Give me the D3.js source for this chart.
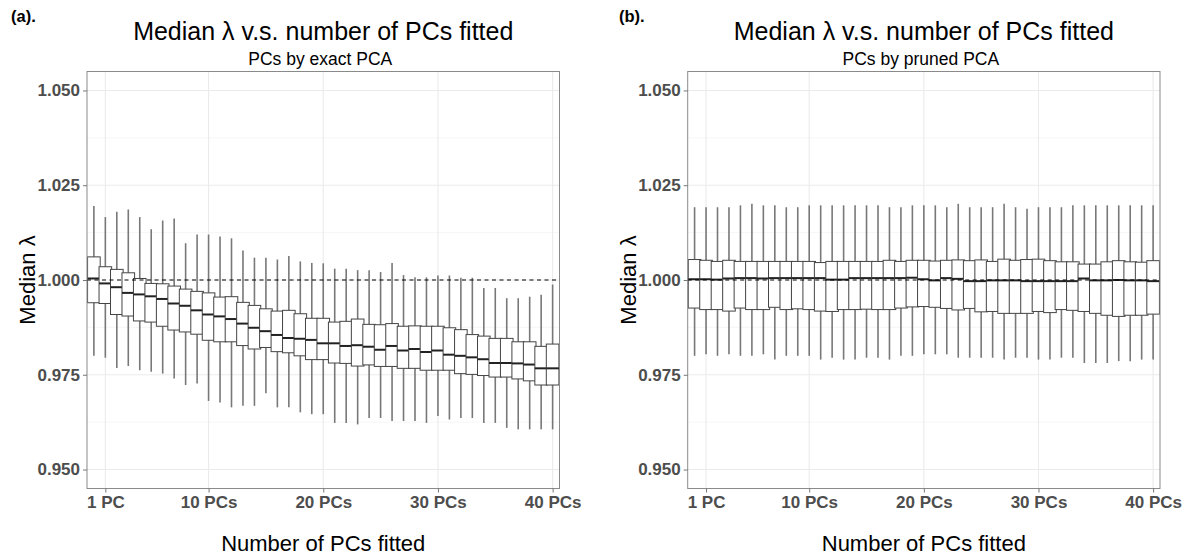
<!DOCTYPE html>
<html><head><meta charset="utf-8">
<script src="https://cdn.jsdelivr.net/npm/d3@7"></script>
<style>
body{margin:0;background:#fff;}
text{font-family:"Liberation Sans",Arial,Helvetica,sans-serif;}
</style></head>
<body><svg id="chart" width="1192" height="559"></svg>
<script>
// number of PCs fitted (levels of the x factor)
const pcLevels = [0,1,2,3,4,5,6,7,8,9,10,11,12,13,14,15,16,17,18,19,20,21,22,23,24,25,26,27,28,29,30,31,32,33,34,35,36,37,38,39,40];
const xTickValues = [1,10,20,30,40];
const xTickLabels = ["1 PC","10 PCs","20 PCs","30 PCs","40 PCs"];
const yTickValues = [0.950,0.975,1.000,1.025,1.050];
const yMinorValues = [0.9625,0.9875,1.0125,1.0375];

// (a) PCs by exact PCA
const exactUpper = [1.0195,1.0166,1.0180,1.0186,1.0166,1.0134,1.0157,1.0162,1.0097,1.0120,1.0120,1.0115,1.0110,1.0078,1.0059,1.0059,1.0054,1.0063,1.0049,1.0045,1.0044,1.0030,1.0030,1.0026,1.0026,1.0021,1.0045,1.0013,1.0007,1.0007,1.0012,1.0012,1.0006,1.0006,0.9979,0.9979,0.9952,0.9952,0.9956,0.9961,0.9988];
const exactQ3 = [1.0061,1.0035,1.0028,1.0019,1.0004,0.9991,0.9990,0.9984,0.9976,0.9970,0.9966,0.9955,0.9956,0.9941,0.9933,0.9924,0.9918,0.9920,0.9911,0.9899,0.9899,0.9889,0.9891,0.9897,0.9883,0.9882,0.9885,0.9878,0.9879,0.9878,0.9878,0.9874,0.9869,0.9856,0.9852,0.9846,0.9846,0.9837,0.9837,0.9825,0.9831];
const exactMedian = [1.0004,0.9991,0.9981,0.9966,0.9962,0.9957,0.9950,0.9938,0.9932,0.9920,0.9909,0.9904,0.9897,0.9885,0.9874,0.9865,0.9855,0.9847,0.9845,0.9842,0.9833,0.9833,0.9826,0.9828,0.9824,0.9816,0.9826,0.9814,0.9818,0.9810,0.9814,0.9803,0.9800,0.9796,0.9791,0.9781,0.9781,0.9780,0.9777,0.9767,0.9767];
const exactQ1 = [0.9940,0.9938,0.9909,0.9905,0.9892,0.9889,0.9878,0.9868,0.9863,0.9857,0.9841,0.9837,0.9837,0.9827,0.9818,0.9822,0.9811,0.9808,0.9800,0.9790,0.9790,0.9781,0.9780,0.9773,0.9776,0.9772,0.9772,0.9767,0.9767,0.9762,0.9762,0.9762,0.9753,0.9751,0.9748,0.9744,0.9744,0.9739,0.9734,0.9723,0.9723];
const exactLower = [0.9800,0.9795,0.9768,0.9773,0.9762,0.9758,0.9753,0.9740,0.9723,0.9727,0.9681,0.9677,0.9664,0.9668,0.9668,0.9701,0.9664,0.9664,0.9651,0.9646,0.9646,0.9623,0.9623,0.9619,0.9636,0.9636,0.9628,0.9628,0.9628,0.9623,0.9641,0.9632,0.9636,0.9636,0.9623,0.9623,0.9610,0.9606,0.9606,0.9606,0.9606];

// (b) PCs by pruned PCA
const prunedUpper = [1.0192,1.0192,1.0192,1.0192,1.0197,1.0201,1.0197,1.0197,1.0192,1.0192,1.0197,1.0197,1.0197,1.0197,1.0197,1.0197,1.0197,1.0192,1.0192,1.0197,1.0197,1.0197,1.0192,1.0201,1.0192,1.0192,1.0192,1.0201,1.0192,1.0188,1.0192,1.0192,1.0192,1.0197,1.0197,1.0197,1.0197,1.0197,1.0197,1.0197,1.0197];
const prunedQ3 = [1.0054,1.0052,1.0049,1.0052,1.0049,1.0049,1.0049,1.0049,1.0049,1.0049,1.0049,1.0046,1.0049,1.0049,1.0049,1.0049,1.0049,1.0052,1.0049,1.0052,1.0052,1.0050,1.0052,1.0053,1.0051,1.0053,1.0049,1.0055,1.0052,1.0054,1.0055,1.0051,1.0048,1.0048,1.0042,1.0042,1.0048,1.0051,1.0048,1.0047,1.0051];
const prunedMedian = [1.0002,1.0002,1.0001,1.0004,1.0005,1.0005,1.0004,1.0005,1.0005,1.0005,1.0005,1.0005,1.0001,1.0001,1.0005,1.0005,1.0005,1.0005,1.0005,1.0006,1.0002,0.9999,1.0005,1.0003,0.9997,0.9997,0.9999,0.9999,0.9999,0.9997,0.9997,0.9997,0.9997,0.9997,1.0004,0.9999,0.9999,1.0000,0.9999,0.9999,0.9997];
const prunedQ1 = [0.9926,0.9922,0.9922,0.9918,0.9926,0.9922,0.9922,0.9928,0.9922,0.9924,0.9922,0.9918,0.9917,0.9922,0.9922,0.9923,0.9922,0.9922,0.9926,0.9929,0.9930,0.9928,0.9925,0.9921,0.9925,0.9916,0.9917,0.9912,0.9912,0.9912,0.9917,0.9914,0.9922,0.9920,0.9917,0.9912,0.9907,0.9904,0.9907,0.9907,0.9910];
const prunedLower = [0.9800,0.9804,0.9800,0.9804,0.9800,0.9800,0.9804,0.9790,0.9800,0.9800,0.9800,0.9790,0.9795,0.9790,0.9790,0.9795,0.9795,0.9790,0.9800,0.9800,0.9804,0.9804,0.9804,0.9795,0.9795,0.9795,0.9795,0.9790,0.9795,0.9795,0.9790,0.9790,0.9795,0.9795,0.9781,0.9781,0.9781,0.9786,0.9786,0.9790,0.9790];

const panels = [
  {tag:"(a).", subtitle:"PCs by exact PCA", x0:87, x1:559.5, tagX:11,
   upper:exactUpper, q3:exactQ3, median:exactMedian, q1:exactQ1, lower:exactLower},
  {tag:"(b).", subtitle:"PCs by pruned PCA", x0:687.7, x1:1160, tagX:619,
   upper:prunedUpper, q3:prunedQ3, median:prunedMedian, q1:prunedQ1, lower:prunedLower}
];

const svg = d3.select("#chart");
svg.append("rect").attr("width",1192).attr("height",559).attr("fill","#fff");

const yTop = 71.5, yBottom = 488.5;
const y = d3.scaleLinear().domain([0.945,1.055]).range([yBottom,yTop]);
const fmt = d3.format(".3f");

panels.forEach(p => {
  const x = d3.scalePoint().domain(pcLevels).range([p.x0,p.x1]).padding(0.6);
  const step = x.step();
  const boxW = step*1.1;
  const g = svg.append("g");
  const pw = p.x1 - p.x0;

  // minor grid
  g.selectAll(".ymin").data(yMinorValues).join("line")
    .attr("x1",p.x0).attr("x2",p.x1).attr("y1",d=>y(d)).attr("y2",d=>y(d))
    .attr("stroke","#f0f0f0").attr("stroke-width",0.6);
  // major grid
  g.selectAll(".ymaj").data(yTickValues).join("line")
    .attr("x1",p.x0).attr("x2",p.x1).attr("y1",d=>y(d)).attr("y2",d=>y(d))
    .attr("stroke","#ebebeb").attr("stroke-width",1.1);
  g.selectAll(".xmaj").data(xTickValues).join("line")
    .attr("x1",d=>x(d)).attr("x2",d=>x(d)).attr("y1",yTop).attr("y2",yBottom)
    .attr("stroke","#ebebeb").attr("stroke-width",1.1);

  // boxes
  pcLevels.forEach((lv,i) => {
    const cx = x(lv);
    g.append("line").attr("x1",cx).attr("x2",cx)
      .attr("y1",y(p.upper[i])).attr("y2",y(p.lower[i]))
      .attr("stroke","#787878").attr("stroke-width",1.6);
    g.append("rect").attr("x",cx-boxW/2).attr("width",boxW)
      .attr("y",y(p.q3[i])).attr("height",y(p.q1[i])-y(p.q3[i]))
      .attr("fill","#fff").attr("stroke","#444").attr("stroke-width",1);
    g.append("line").attr("x1",cx-boxW/2).attr("x2",cx+boxW/2)
      .attr("y1",y(p.median[i])).attr("y2",y(p.median[i]))
      .attr("stroke","#222").attr("stroke-width",2);
  });

  // reference line
  g.append("line").attr("x1",p.x0).attr("x2",p.x1).attr("y1",y(1)).attr("y2",y(1))
    .attr("stroke","#000").attr("stroke-width",1).attr("stroke-dasharray","4,3.5");

  // border
  g.append("rect").attr("x",p.x0).attr("y",yTop).attr("width",pw).attr("height",yBottom-yTop)
    .attr("fill","none").attr("stroke","#8a8a8a").attr("stroke-width",1);

  // axes
  const xAxis = d3.axisBottom(x).tickValues(xTickValues)
    .tickFormat((d,i)=>xTickLabels[i]).tickSize(4).tickPadding(3);
  const gx = g.append("g").attr("transform",`translate(0,${yBottom})`).call(xAxis);
  const yAxis = d3.axisLeft(y).tickValues(yTickValues).tickFormat(fmt).tickSize(4).tickPadding(3);
  const gy = g.append("g").attr("transform",`translate(${p.x0},0)`).call(yAxis);
  [gx,gy].forEach(a=>{
    a.select(".domain").remove();
    a.selectAll(".tick line").attr("stroke","#777").attr("stroke-width",1);
    a.selectAll(".tick text").attr("fill","#4d4d4d").attr("font-size","17px")
      .attr("font-weight","bold").attr("font-family","'Liberation Sans',Arial,sans-serif");
  });

  const cx = (p.x0+p.x1)/2;
  svg.append("text").attr("x",p.tagX).attr("y",22).attr("font-size","16.5px")
    .attr("font-weight","bold").text(p.tag);
  svg.append("text").attr("x",cx).attr("y",40).attr("text-anchor","middle")
    .attr("font-size","25px").attr("fill","#000").text("Median λ v.s. number of PCs fitted");
  svg.append("text").attr("x",cx-3).attr("y",65).attr("text-anchor","middle")
    .attr("font-size","17.5px").attr("fill","#000").text(p.subtitle);
  svg.append("text").attr("x",cx).attr("y",551).attr("text-anchor","middle")
    .attr("font-size","22px").attr("fill","#000").text("Number of PCs fitted");
  svg.append("text").attr("transform",`translate(${p.x0-52},${(yTop+yBottom)/2}) rotate(-90)`)
    .attr("text-anchor","middle").attr("font-size","22px").attr("fill","#000").text("Median λ");
});
</script></body></html>
